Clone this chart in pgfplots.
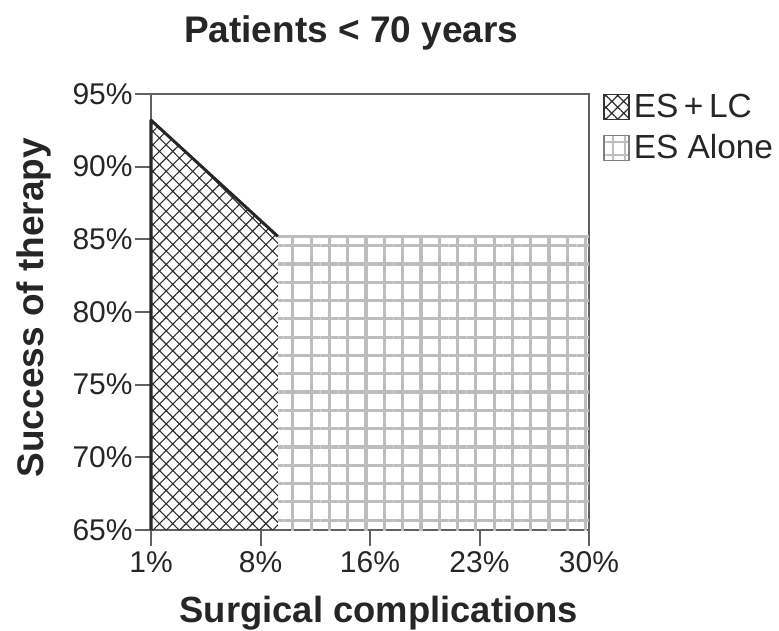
\documentclass[border=0pt]{standalone}
\usepackage{fontspec}
\setmainfont{Liberation Sans}
\usepackage{pgfplots}
\pgfplotsset{compat=1.18}
\usetikzlibrary{patterns.meta}
\definecolor{axisgray}{gray}{0.38}
\definecolor{gridgray}{gray}{0.74}
\definecolor{hatchdark}{gray}{0.18}
\begin{document}
\begin{tikzpicture}
\begin{axis}[
  at={(0,0)}, anchor=south west,
  scale only axis,
  width=219pt, height=218pt,
  xmin=1, xmax=30, ymin=65, ymax=95,
  axis line style={draw=axisgray, line width=1pt},
  every tick/.style={draw=axisgray, line width=1pt},
  tick align=outside,
  major tick length=8pt,
  xtick pos=bottom, ytick pos=left,
  xtick={1,8.25,15.5,22.75,30},
  xticklabels={1\%,8\%,16\%,23\%,30\%},
  ytick={65,70,75,80,85,90,95},
  yticklabel={\pgfmathprintnumber{\tick}\%},
  /pgf/number format/assume math mode=true,
  tick label style={font=\fontsize{15}{18}\selectfont, text=black!85},
  yticklabel style={inner sep=1pt},
  xticklabel style={inner sep=2.5pt},
  title={\textbf{Patients < 70 years}},
  title style={font=\fontsize{18.5}{22}\selectfont, text=black!85, at={(axis description cs:0.457,1.0915)}, anchor=base, yshift=0pt},
  xlabel={\textbf{Surgical complications}},
  xlabel style={font=\fontsize{18.2}{22}\selectfont, text=black!85, at={(axis description cs:0.52,-0.212)}, anchor=base},
  ylabel={\textbf{Success of therapy}},
  ylabel style={font=\fontsize{18.5}{22}\selectfont, text=black!85, at={(axis description cs:-0.2443,0.51)}, anchor=base, rotate=0},
  legend style={draw=none, fill=none, at={(1.032,1.01)}, anchor=north west,
    font=\fontsize{16.7}{20}\selectfont, text=black!85, row sep=3pt, inner sep=0pt},
  legend cell align=left,
  clip=false,
]
\addplot[draw=none, pattern={Hatch[angle=45,distance=4.7pt,line width=0.55pt]}, pattern color=hatchdark,
  legend image code/.code={\draw[pattern={Hatch[angle=45,distance=4.2pt,line width=0.6pt]}, pattern color=hatchdark, draw=black!80, line width=0.7pt] (0pt,-6.25pt) rectangle (12.5pt,6.25pt);}]
  coordinates {(1,65) (1,93.2) (9.4,85.2) (9.4,65) (1,65)};
\addlegendentry{ES\,+\,LC}
\addplot[draw=none, pattern={Hatch[angle=0,distance=9.15pt,line width=1.6pt]}, pattern color=gridgray,
  legend image code/.code={\draw[pattern={Hatch[angle=0,distance=6.25pt,line width=1pt]}, pattern color=gridgray, draw=black!50, line width=0.7pt] (0pt,-6.25pt) rectangle (12.5pt,6.25pt);}]
  coordinates {(9.4,65) (9.4,85.2) (30,85.2) (30,65) (9.4,65)};
\addlegendentry{ES Alone}
\addplot[forget plot, draw=gridgray, line width=1.6pt] coordinates {(9.4,85.2) (30,85.2)};
\addplot[forget plot, draw=black!85, line width=1.5pt, line join=round] coordinates {(1,65) (1,93.2) (9.4,85.2)};
\end{axis}
\pgfresetboundingbox
\useasboundingbox (-75.5pt,-50pt) rectangle (314pt,265pt);
\end{tikzpicture}
\end{document}
